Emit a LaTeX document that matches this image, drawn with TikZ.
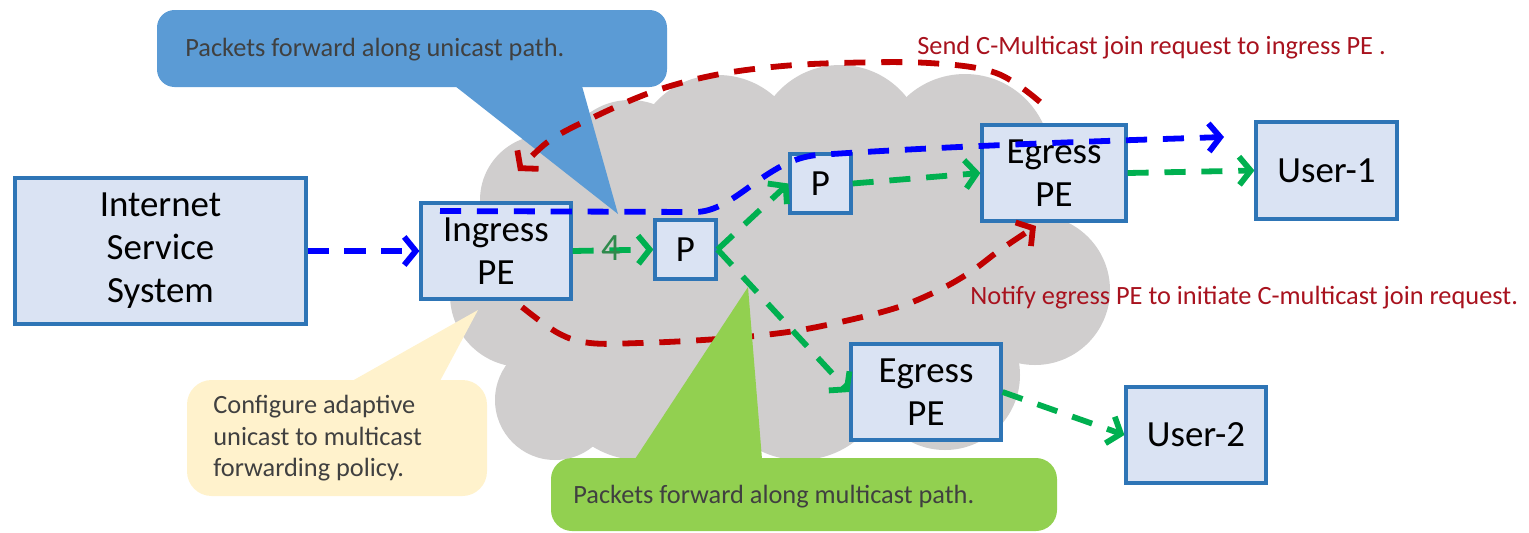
\documentclass[tikz,border=0pt]{standalone}
\usepackage{fontspec}
\setmainfont{Carlito}
\usetikzlibrary{arrows.meta,calc}
\definecolor{cloudgrey}{HTML}{D0CECE}
\definecolor{boxfill}{HTML}{DAE3F3}
\definecolor{boxline}{HTML}{2E75B6}
\definecolor{calloutblue}{HTML}{5B9BD5}
\definecolor{calloutyellow}{HTML}{FFF2CC}
\definecolor{calloutgreen}{HTML}{92D050}
\definecolor{uniblue}{HTML}{0000FF}
\definecolor{multigreen}{HTML}{00B050}
\definecolor{joinred}{HTML}{C00000}
\definecolor{notered}{HTML}{A8121E}
\definecolor{calltext}{HTML}{404040}
\definecolor{hopgreen}{HTML}{2F8A4C}
\tikzset{
  netbox/.style={draw=boxline, fill=boxfill, line width=1.8pt, inner sep=0pt,
    align=center, font=\fontsize{21}{24.5}\selectfont},
  flow/.style={line width=3.3pt, dash pattern=on 12pt off 9pt,
    -{Straight Barb[length=6.5pt,width=16pt,line width=3.3pt]}},
  uniflow/.style={flow, draw=uniblue},
  multiflow/.style={flow, draw=multigreen},
  joinflow/.style={flow, draw=joinred},
  calltxt/.style={inner sep=0pt, anchor=west, text=calltext, align=left,
    font=\fontsize{15}{18}\selectfont},
  notetxt/.style={inner sep=0pt, anchor=west, text=notered,
    font=\fontsize{15}{18}\selectfont},
}
\begin{document}
\begin{tikzpicture}[x=0.02cm,y=-0.02cm]
\useasboundingbox (0,0) rectangle (1529,532);

% provider network cloud
\begin{scope}[cloudgrey]
  \fill (545,200) circle[radius=65];
  \fill (630,170) circle[radius=70];
  \fill (718,160) circle[radius=85];
  \fill (840,150) circle[radius=85];
  \fill (965,160) circle[radius=86];
  \fill (1035,290) circle[radius=75];
  \fill (945,375) circle[radius=75];
  \fill (800,370) circle[radius=90];
  \fill (640,370) circle[radius=90];
  \fill (522,295) circle[radius=72];
  \fill (555,400) circle[radius=60];
  \fill (790,260) ellipse[x radius=260, y radius=140];
\end{scope}

% callouts behind the flows
\fill[calloutblue, rounded corners=10] (157,10) rectangle (667,87);
\fill[calloutblue] (455,86) -- (582,86) -- (618,214) -- cycle;
\node[calltxt] (unitxt) at (185,50) {Packets forward along unicast path.};

\fill[calloutyellow, rounded corners=14] (187,380) rectangle (487,496);
\fill[calloutyellow] (352,381) -- (440,381) -- (478,310) -- cycle;
\node[calltxt, anchor=north west] (policytxt) at (213,395)
  {Configure adaptive\\unicast to multicast\\forwarding policy.};

% network elements
\node[netbox, minimum width=291*0.02cm, minimum height=146*0.02cm] (iss) at (160.5,251) {Internet\\Service\\System};
\node[netbox, minimum width=150*0.02cm, minimum height=96*0.02cm] (ing) at (496,251) {Ingress\\PE};
\node[netbox, minimum width=61*0.02cm, minimum height=59*0.02cm] (p1) at (685.5,249.5) {P};
\node[netbox, minimum width=61*0.02cm, minimum height=59*0.02cm] (p2) at (820.5,183.5) {P};
\node[netbox, minimum width=144*0.02cm, minimum height=96*0.02cm] (eg1) at (1054,173) {Egress\\PE};
\node[netbox, minimum width=141*0.02cm, minimum height=97*0.02cm] (u1) at (1326.5,170.5) {User-1};
\node[netbox, minimum width=150*0.02cm, minimum height=96*0.02cm] (eg2) at (926,392) {Egress\\PE};
\node[netbox, minimum width=140*0.02cm, minimum height=96*0.02cm] (u2) at (1196,435) {User-2};

% C-multicast join signalling
\coordinate (joinstart) at (1040,102);
\coordinate (joinend) at (518,171);
\draw[joinflow] plot[smooth, tension=0.6] coordinates {(joinstart) (996,73) (929,63) (839,63) (772,67) (710,76) (652,92) (594,117) (549,141) (joinend)};
\coordinate (notifystart) at (522,307);
\coordinate (notifyend) at (1036,226);
\draw[joinflow] plot[smooth, tension=0.6] coordinates {(notifystart) (558,333) (590,343) (640,343) (703,340) (764,335) (817,327) (889,310) (933,293) (969,273) (1000,250) (notifyend)};

\node[notetxt] (sendtxt) at (917,48) {Send C-Multicast join request to ingress PE .};
\node[notetxt] (notifytxt) at (970,298) {Notify egress PE to initiate C-multicast join request.};

% multicast callout
\fill[calloutgreen, rounded corners=12] (551,458) rectangle (1057,531);
\fill[calloutgreen] (635,459) -- (762,459) -- (748,287) -- cycle;
\node[calltxt] (multitxt) at (573,497) {Packets forward along multicast path.};

% multicast forwarding
\draw[multiflow] (ing.east) -- (p1.west);
\node[text=hopgreen, inner sep=0pt, font=\fontsize{22}{26}\selectfont] (hop) at (611,248) {4};
\draw[multiflow] (p1.east) -- (p2.west);
\draw[multiflow] (p2.east) -- (eg1.west);
\draw[multiflow] (eg1.east) -- (u1.west);
\draw[multiflow] (p1.east) -- (eg2.west);
\draw[multiflow] (eg2.east) -- (u2.west);

% unicast forwarding
\draw[uniflow] (iss.east) -- (ing.west);
\coordinate (unistart) at (440,211);
\coordinate (uniend) at (1224,137);
\draw[uniflow] (unistart) -- (695,212) .. controls (735,212) and (765,160) .. (817,155)
  .. controls (950,146) and (1100,141) .. (uniend);
\end{tikzpicture}
\end{document}
